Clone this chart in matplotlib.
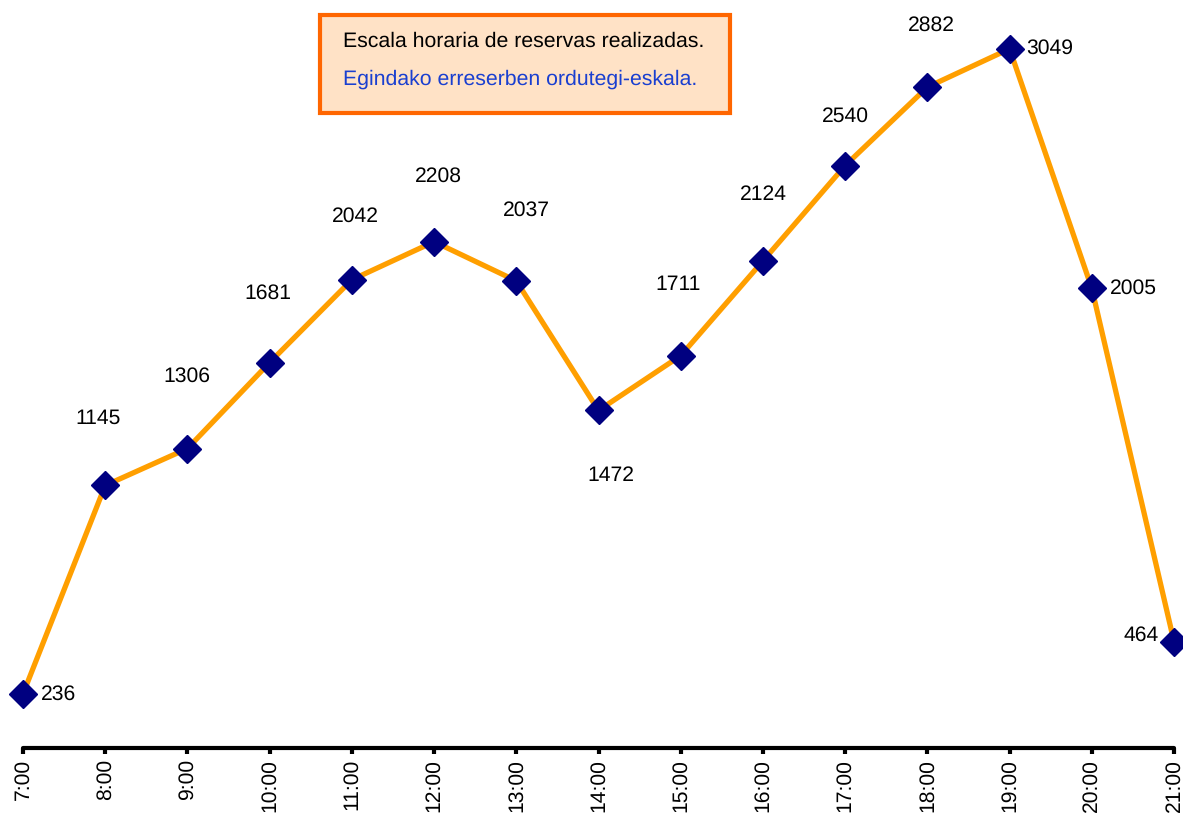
import matplotlib
matplotlib.use("Agg")
import matplotlib.pyplot as plt
from matplotlib.patches import FancyBboxPatch

plt.rcParams['font.family'] = ['Liberation Sans', 'DejaVu Sans']
plt.rcParams['text.hinting'] = 'no_hinting'

hours = ["7:00", "8:00", "9:00", "10:00", "11:00", "12:00", "13:00", "14:00",
         "15:00", "16:00", "17:00", "18:00", "19:00", "20:00", "21:00"]
reservas = [236, 1145, 1306, 1681, 2042, 2208, 2037, 1472, 1711, 2124, 2540, 2882, 3049, 2005, 464]
title_es = "Escala horaria de reservas realizadas."
title_eu = "Egindako erreserben ordutegi-eskala."

# label offsets (pixels) relative to each point, and alignment
label_offsets = [(18, 0), (-7, 67), (-1, 72), (-2, 69), (4, 63), (4, 65), (10, 71), (12, -65),
                 (-3, 71), (1, 66), (0, 49), (4, 62), (17, 0), (18, 0), (-15, 6)]
label_ha = ["left", "center", "center", "center", "center", "center", "center", "center",
            "center", "center", "center", "center", "left", "left", "right"]

fig = plt.figure(figsize=(11.83, 8.14), dpi=100)
ax = fig.add_axes([23/1183, 1 - 748/814, (1174 - 23)/1183, 748/814])
x = list(range(len(hours)))
ax.plot(x, reservas, color="#FF9F00", lw=3.8, zorder=2, clip_on=False)
ax.plot(x, reservas, ls="none", marker="D", ms=14, color="#000080", zorder=3, clip_on=False)

for xi, v, (dx, dy), ha in zip(x, reservas, label_offsets, label_ha):
    ax.annotate(str(v), (xi, v), xytext=(dx, dy), textcoords="offset pixels",
                ha=ha, va="center", fontsize=15.2, color="black")

ax.set_xlim(0, len(hours) - 1)
ax.set_ylim(0, 3262)
ax.set_yticks([])
ax.set_xticks(x)
ax.set_xticklabels(hours, rotation=90, fontsize=15.2)
for s in ["top", "right", "left"]:
    ax.spines[s].set_visible(False)
ax.spines["bottom"].set_linewidth(3)
ax.spines["bottom"].set_capstyle("round")
ax.tick_params(axis="x", length=4, width=3, direction="out", pad=4)
ax.patch.set_alpha(0)

# title box
box = FancyBboxPatch((320/1183, 1 - 113/814), (730 - 320)/1183, (113 - 15)/814,
                     boxstyle="square,pad=0", transform=fig.transFigure,
                     facecolor="#FFE2C6", edgecolor="#FF6600", lw=3, zorder=5)
fig.patches.append(box)
fig.text(343/1183, 1 - 41/814, title_es, fontsize=15.3, color="black", va="center", ha="left", zorder=6)
fig.text(343/1183, 1 - 79/814, title_eu, fontsize=15.3, color="#1A3FD0", va="center", ha="left", zorder=6)

fig.savefig("out.png", dpi=100)
